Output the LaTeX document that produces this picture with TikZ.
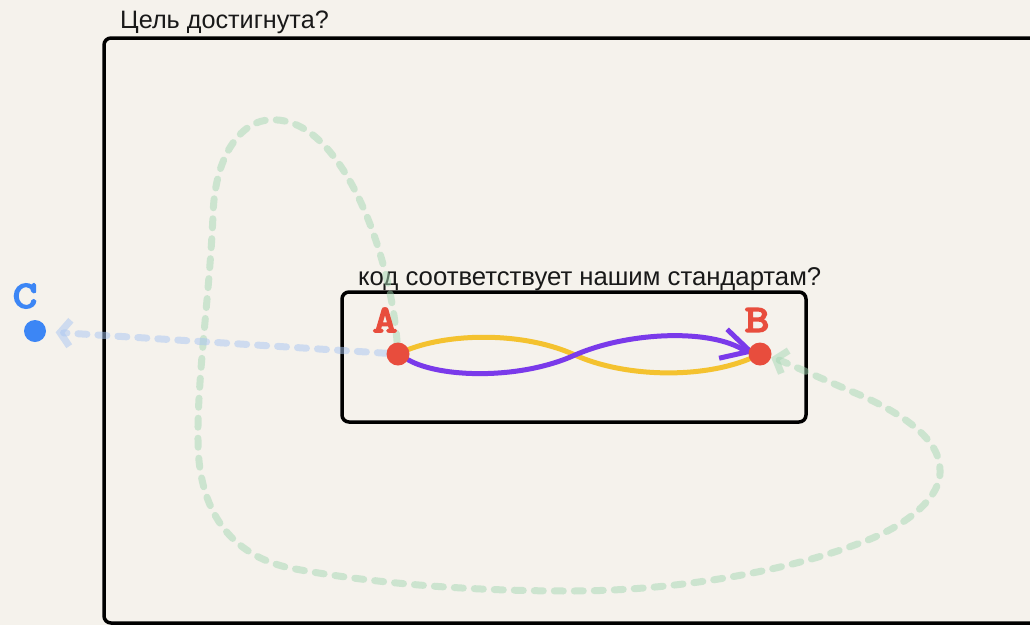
\documentclass[tikz,border=0pt]{standalone}
\usepackage{fontspec}
\setmainfont{Liberation Sans}
\newfontfamily\lblfont[FakeBold=5,FakeStretch=1.25]{Latin Modern Mono}
\usetikzlibrary{arrows.meta}
\definecolor{bg}{HTML}{F5F2EC}
\definecolor{ptred}{HTML}{E84D3D}
\definecolor{ptblue}{HTML}{3C86F5}
\definecolor{lnyellow}{HTML}{F4C22F}
\definecolor{lnpurple}{HTML}{7A3AEA}
\definecolor{lngreen}{HTML}{A5D8B4}
\definecolor{lnblue}{HTML}{A9C6F2}
\tikzset{
  frame/.style={draw=black, line width=3.5pt, rounded corners=7pt, inner sep=0pt},
  dot/.style={circle, inner sep=0pt, minimum size=23pt},
  lbl/.style={font=\lblfont\fontsize{38}{38}\selectfont, inner sep=0pt},
  title/.style={font=\fontsize{25.2}{28}\selectfont, inner sep=0pt, anchor=base west, text=black!90},
  faint/.style={line width=7pt, line cap=round, dash pattern=on 9pt off 11pt, opacity=0.5},
  solidln/.style={line width=5pt, line cap=round},
}
\begin{document}
\begin{tikzpicture}[x=1pt,y=-1pt]
\fill[bg] (0,0) rectangle (1030,625);
\useasboundingbox (0,0) rectangle (1030,625);
\clip (0,0) rectangle (1030,625);
% outer frame
\node[frame, minimum width=960pt, minimum height=585pt] (outer) at (584,330.5) {};
\node[title] (t1) at (120,28) {Цель достигнута?};
% inner frame
\node[frame, minimum width=464pt, minimum height=130pt] (inner) at (574,357) {};
\node[title, font=\fontsize{25.7}{28}\selectfont] (t2) at (358,285) {код соответствует нашим стандартам?};
% points
\node[dot] (A) at (398,354) {};
\node[dot] (B) at (760,354) {};
\node[dot] (C) at (35,331) {};
\coordinate (pend) at (742,349);
% green loop
\draw[faint, lngreen, -{Straight Barb[length=10pt,width=24pt]}]
  (A) .. controls (390,250) and (340,115) .. (270,120)
      .. controls (245,120) and (215,150) .. (213,215)
      .. controls (210,290) and (197,380) .. (198,440)
      .. controls (198,510) and (230,555) .. (290,568)
      .. controls (380,585) and (480,591) .. (570,591)
      .. controls (680,591) and (790,570) .. (860,543)
      .. controls (910,525) and (942,495) .. (940,470)
      .. controls (940,440) and (905,415) .. (860,395)
      .. controls (820,378) and (785,362) .. (B);
% blue line to C
\draw[faint, lnblue, shorten >=9pt, -{Straight Barb[length=10pt,width=26pt]}] (A) -- (C);
% yellow and purple
\draw[solidln, lnyellow] (A.center) .. controls (440,333) and (520,330) .. (575,355)
      .. controls (625,378) and (710,380) .. (B.center);
\draw[solidln, lnpurple, shorten >=5pt, -{Straight Barb[length=28pt,width=30pt]}]
  (A) .. controls (440,378) and (520,380) .. (575,355)
      .. controls (625,333) and (705,328) .. (pend) -- (B.center);
% dots on top
\fill[ptred] (A) circle (11.5pt);
\fill[ptred] (B) circle (11.5pt);
\fill[ptblue] (C) circle (11pt);
\node[lbl, text=ptred] (la) at (385,320) {A};
\node[lbl, text=ptred] (lb) at (757,320) {B};
\node[lbl, text=ptblue] (lc) at (25,296) {C};
\end{tikzpicture}
\end{document}
